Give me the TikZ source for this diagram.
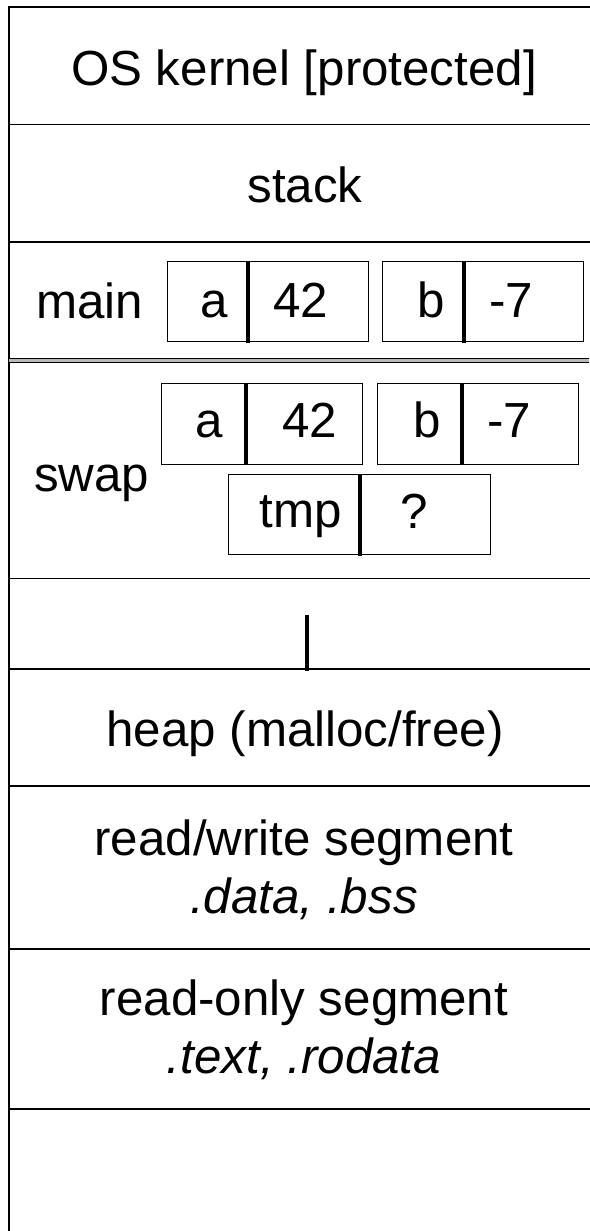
\documentclass[tikz,border=0pt]{standalone}
\usepackage{fontspec}
\setmainfont{Liberation Sans}
\tikzset{
  frame/.style={line width=1.8pt, line cap=rect},
  varbox/.style={draw, line width=1.3pt, minimum width=#1, minimum height=80pt, inner sep=0pt, anchor=north west},
  divider/.style={line width=3.2pt},
  lbl/.style={anchor=base, inner sep=0pt, font=\fontsize{49.3}{58}\selectfont},
  lblw/.style={anchor=base west, inner sep=0pt, font=\fontsize{49.3}{58}\selectfont},
  bar/.style={line width=4pt}
}
\begin{document}
\begin{tikzpicture}[x=1pt,y=-1pt]
\useasboundingbox (0,0) rectangle (589,1231);
% frame
\draw[frame] (9.3,1231) -- (9.3,7) -- (589,7);
\foreach \yy in {124.5,242,578.5,669,786,949,1109}
  \draw[frame] (9.3,\yy) -- (589,\yy);
% double separator between main and swap
\draw[line width=4.5pt, gray!55] (9.3,360.5) -- (589,360.5);
\draw[line width=1.3pt] (9.3,358.6) -- (589,358.6);
\draw[line width=1.3pt] (9.3,362.6) -- (589,362.6);

% band labels
\node[lbl] (kernel) at (304,85) {OS kernel [protected]};
\node[lbl] (stack) at (305,202) {stack};
\node[lblw] (main) at (36,318) {main};
\node[lblw] (swap) at (34,491) {swap};
\node[lbl] (heap) at (305,746) {heap (malloc/free)};
\node[lbl] (rw1) at (304,855) {read/write segment};
\node[lbl] (rw2) at (304,913) {\itshape .data, .bss};
\node[lbl] (ro1) at (304,1015) {read-only segment};
\node[lbl] (ro2) at (304,1073) {\itshape .text, .rodata};

% main frame variables
\node[varbox=201pt] (mainA) at (167,261) {};
\draw[divider] (248,261) -- (248,343);
\node[varbox=201pt] (mainB) at (382,261) {};
\draw[divider] (464,261) -- (464,343);
\node[lbl] (mainAn) at (214,317) {a};
\node[lbl] (mainAv) at (301,317) {42};
\node[lbl] (mainBn) at (431,317) {b};
\node[lbl] (mainBv) at (511,317) {-7};

% swap frame variables
\node[varbox=201pt, minimum height=81pt] (swapA) at (161,383) {};
\draw[divider] (246,383) -- (246,465);
\node[varbox=201pt, minimum height=81pt] (swapB) at (377,383) {};
\draw[divider] (462,383) -- (462,465);
\node[varbox=262pt] (swapT) at (228,474) {};
\draw[divider] (360,474) -- (360,556);
\node[lbl] (swapAn) at (209,437) {a};
\node[lbl] (swapAv) at (310,437) {42};
\node[lbl] (swapBn) at (427,437) {b};
\node[lbl] (swapBv) at (509,437) {-7};
\node[lbl] (swapTn) at (301,527) {tmp};
\node[lbl] (swapTv) at (414,528) {?};

% stack growth marker
\draw[bar] (307,615) -- (307,671);
\end{tikzpicture}
\end{document}
